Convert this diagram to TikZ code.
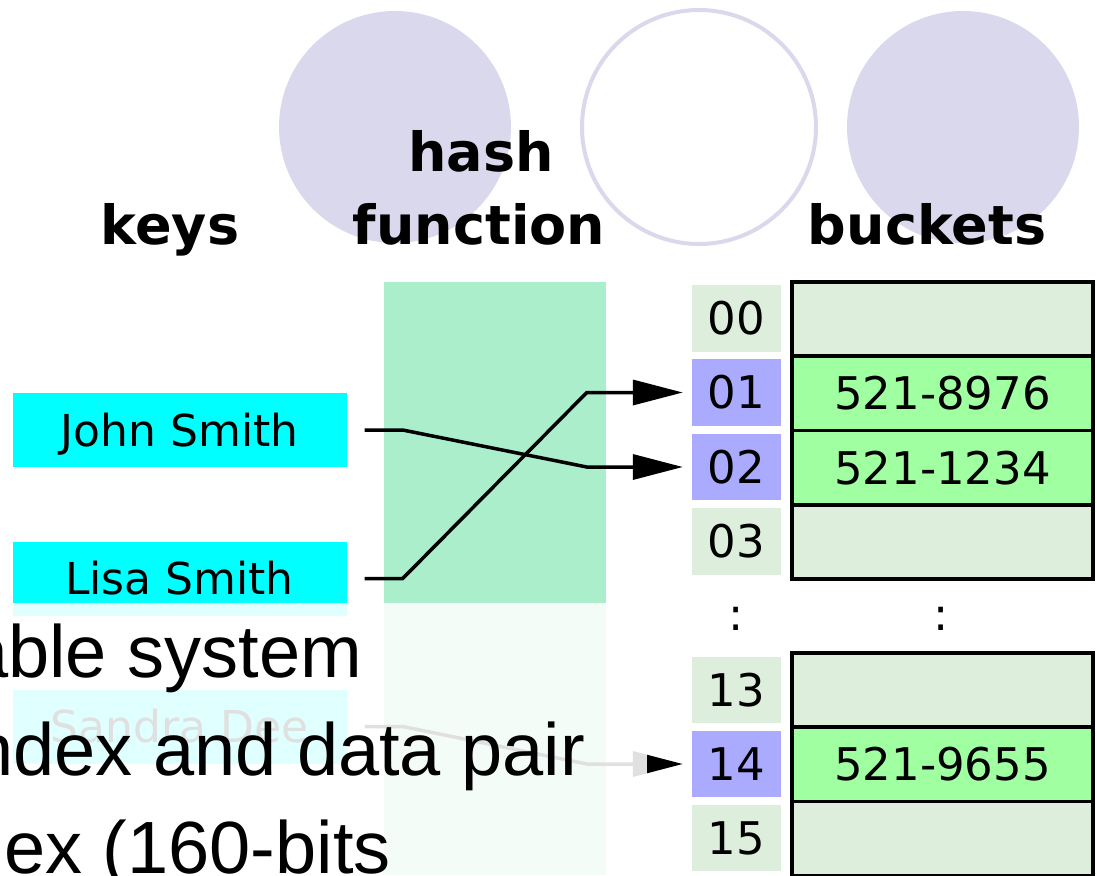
\documentclass[tikz,border=0pt]{standalone}
\usepackage{fontspec}
\newfontfamily\dvfont{DejaVu Sans}
\newfontfamily\libfont{Liberation Sans}
\usetikzlibrary{arrows.meta,calc}
\definecolor{lav}{HTML}{DAD8EC}
\definecolor{hashgreen}{HTML}{ABEECB}
\definecolor{idxgray}{HTML}{DDEEDD}
\definecolor{idxblue}{HTML}{AAAAFF}
\definecolor{fullgreen}{HTML}{A0FFA0}
\definecolor{keycyan}{HTML}{00FFFF}
\tikzset{
  hdr/.style={anchor=base, inner sep=0pt, font=\dvfont\bfseries\fontsize{54}{60}\selectfont},
  keybox/.style={fill=keycyan, minimum width=334pt, minimum height=74pt, inner sep=0pt,
    text height=32.1pt, text depth=0pt, font=\dvfont\fontsize{44}{50}\selectfont},
  idx/.style={fill=idxgray, minimum width=89pt, minimum height=66.5pt, inner sep=0pt,
    text height=32.8pt, text depth=0pt, font=\dvfont\fontsize{45}{50}\selectfont},
  idxon/.style={idx, fill=idxblue},
  bucket/.style={draw=black, line width=3.5pt, fill=idxgray, minimum width=301pt, minimum height=74.3pt,
    inner sep=0pt, text height=32.8pt, text depth=0pt, font=\dvfont\fontsize{45}{50}\selectfont},
  bucketon/.style={bucket, fill=fullgreen},
  conn/.style={line width=3.5pt, -{Triangle[length=50pt,width=25pt]}, shorten <=18pt, shorten >=9pt},
  slidetext/.style={anchor=base west, inner sep=0pt, font=\libfont\fontsize{74}{80}\selectfont},
  dots/.style={anchor=base, inner sep=0pt, font=\dvfont\fontsize{45}{50}\selectfont}
}
\begin{document}
\begin{tikzpicture}[x=1pt,y=-1pt]
\useasboundingbox (0,0) rectangle (1097,875);
% slide decoration circles
\fill[lav] (395,127) circle[radius=116];
\draw[lav, line width=4pt] (699,127) circle[radius=117];
\fill[lav] (963,127) circle[radius=116];
% headers
\node[hdr] (hkeys) at (170,244) {keys};
\node[hdr] (hhash) at (481,171) {hash};
\node[hdr] (hfunc) at (479,244) {function};
\node[hdr] (hbuck) at (927,244) {buckets};
% hash function column
\fill[hashgreen] (384,282) rectangle (606,875);
% keys
\node[keybox] (john) at (179.5,430) {John Smith};
\node[keybox] (lisa) at (179.5,578.5) {Lisa Smith};
\node[keybox] (sandra) at (179.5,726.5) {Sandra Dee};
% indices
\node[idx] (i00) at (736.5,318.5) {00};
\node[idxon] (i01) at (736.5,392.5) {01};
\node[idxon] (i02) at (736.5,467) {02};
\node[idx] (i03) at (736.5,541.5) {03};
\node[idx] (i13) at (736.5,690) {13};
\node[idxon] (i14) at (736.5,764) {14};
\node[idx] (i15) at (736.5,838) {15};
\node[dots] (d1) at (736.5,630) {:};
\node[dots] (d2) at (941,630) {:};
% buckets
\node[bucket] (b00) at (942.5,319) {};
\node[bucketon] (b01) at (942.5,393.3) {521-8976};
\node[bucketon] (b02) at (942.5,467.6) {521-1234};
\node[bucket] (b03) at (942.5,541.9) {};
\node[bucket] (b13) at (942.5,690) {};
\node[bucketon] (b14) at (942.5,764.3) {521-9655};
\node[bucket] (b15) at (942.5,838.6) {};
% connectors
\draw[conn] (john.east) -- ++(56,0) -- ([xshift=-105pt]i02.west) -- (i02.west);
\draw[conn] (lisa.east) -- ++(56,0) -- ([xshift=-105pt]i01.west) -- (i01.west);
\draw[conn] (sandra.east) -- ++(56,0) -- ([xshift=-105pt]i14.west) -- (i14.west);
% translucent slide text box
\fill[white, opacity=0.88] (0,603) rectangle (647,875);
\node[slidetext] (t1) at (-33,677) {able system};
\node[slidetext] (t2) at (-28,775) {ndex and data pair};
\node[slidetext] (t3) at (4,873) {ex (160-bits};
\end{tikzpicture}
\end{document}
